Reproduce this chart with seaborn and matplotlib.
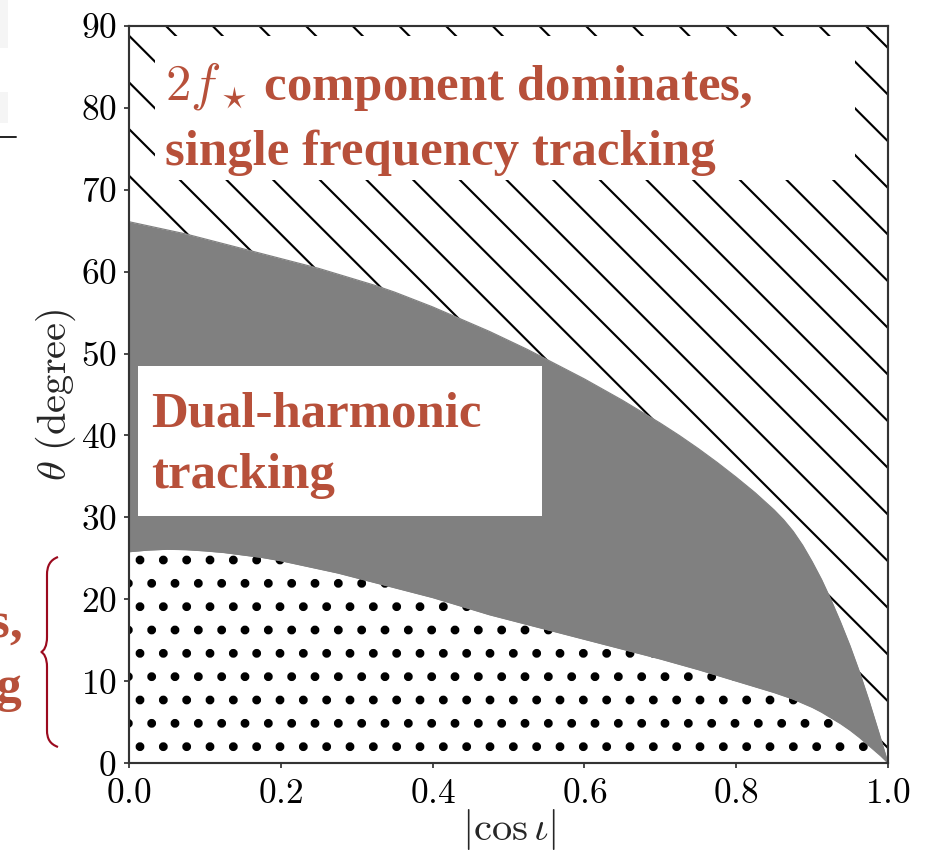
import matplotlib
matplotlib.use("Agg")
import matplotlib.pyplot as plt
import seaborn as sns
import pandas as pd
from matplotlib.patches import Rectangle, PathPatch
from matplotlib.path import Path

# |cos iota| samples and the two regime boundaries (degrees)
cos_iota = [0.0, 0.025, 0.05, 0.075, 0.1, 0.125, 0.15, 0.175, 0.2, 0.225, 0.25, 0.275,
            0.3, 0.325, 0.35, 0.375, 0.4, 0.425, 0.45, 0.475, 0.5, 0.525, 0.55, 0.575,
            0.6, 0.625, 0.65, 0.675, 0.7, 0.725, 0.75, 0.775, 0.8, 0.825, 0.85, 0.8625,
            0.875, 0.8875, 0.9, 0.9125, 0.925, 0.9375, 0.95, 0.9625, 0.975, 0.99, 1.0]
theta_upper = [66.1, 65.6, 65.1, 64.6, 64.0, 63.4, 62.8, 62.2, 61.6, 61.0, 60.4, 59.7,
               59.0, 58.3, 57.5, 56.6, 55.7, 54.7, 53.7, 52.7, 51.6, 50.5, 49.3, 48.1,
               46.9, 45.6, 44.3, 42.9, 41.5, 40.0, 38.4, 36.7, 34.9, 33.0, 30.9, 29.7,
               28.3, 26.6, 24.6, 22.4, 19.9, 17.2, 14.3, 11.1, 7.6, 3.1, 0.0]
theta_lower = [25.8, 26.0, 26.1, 26.05, 25.9, 25.7, 25.4, 25.1, 24.7, 24.2, 23.7, 23.2,
               22.6, 22.0, 21.4, 20.8, 20.2, 19.5, 18.8, 18.1, 17.5, 16.9, 16.3, 15.7,
               15.1, 14.5, 13.9, 13.3, 12.7, 12.05, 11.4, 10.7, 10.0, 9.3, 8.6, 8.2,
               7.8, 7.3, 6.8, 6.2, 5.5, 4.8, 4.0, 3.1, 2.1, 0.9, 0.0]

x_ticks = [0.0, 0.2, 0.4, 0.6, 0.8, 1.0]
x_tick_labels = [r"$0.0$", r"$0.2$", r"$0.4$", r"$0.6$", r"$0.8$", r"$1.0$"]
y_ticks = [0, 10, 20, 30, 40, 50, 60, 70, 80, 90]
y_tick_labels = [r"$%d$" % v for v in y_ticks]

label_top = [r"$2f_\star\,$component dominates,", "single frequency tracking"]
label_mid = ["Dual-harmonic", "tracking"]
label_side = [r"$f_\star\,$component dominates,", "single frequency tracking"]

df = pd.DataFrame({"cos_iota": cos_iota, "upper": theta_upper, "lower": theta_lower})

sns.set_theme(style="ticks")
plt.rcParams["font.family"] = ["Liberation Serif", "DejaVu Serif"]
plt.rcParams["mathtext.fontset"] = "cm"
plt.rcParams["axes.linewidth"] = 0.55
plt.rcParams["axes.edgecolor"] = "#333333"

DPI = 280
W, H = 927, 851
fig = plt.figure(figsize=(W / DPI, H / DPI), dpi=DPI)
ax = fig.add_axes([129 / W, 1 - 763 / H, 759 / W, 737 / H])

red = "#b7503a"
grey = "#808080"


def hatched(y1, y2, pattern, hlw):
    with plt.rc_context({"hatch.linewidth": hlw}):
        coll = ax.fill_between(df["cos_iota"], y1, y2, facecolor="white",
                               edgecolor="black", hatch=pattern, linewidth=0, zorder=1)
        if hasattr(coll, "set_hatch_linewidth"):
            coll.set_hatch_linewidth(hlw)
    return coll


# single-frequency (2f) regime: hatched, above the upper boundary
hatched(df["upper"], 90, "\\\\", 0.55)
# low-theta regime: dotted, below the lower boundary
hatched(0, df["lower"], "..", 1.05)
# dual-harmonic regime: solid grey
ax.fill_between(df["cos_iota"], df["lower"], df["upper"], color=grey,
                linewidth=0, zorder=2)
sns.lineplot(data=df, x="cos_iota", y="upper", color=grey, lw=0.3, ax=ax, zorder=2)
sns.lineplot(data=df, x="cos_iota", y="lower", color=grey, lw=0.3, ax=ax, zorder=2)

# white label panels
ax.add_patch(Rectangle((0.034, 71.2), 0.923, 17.6, facecolor="white",
                       edgecolor="none", zorder=3))
ax.add_patch(Rectangle((0.012, 30.2), 0.532, 18.3, facecolor="white",
                       edgecolor="none", zorder=3))

fs = 13.1
tkw = dict(color=red, fontsize=fs, fontweight="bold", va="baseline", ha="left", zorder=4)
ax.text(0.047, 80.95, label_top[0], **tkw)
ax.text(0.047, 73.0, label_top[1], **tkw)
ax.text(0.0286, 41.1, label_mid[0], **tkw)
ax.text(0.0286, 33.6, label_mid[1], **tkw)

ax.set_xlim(0, 1)
ax.set_ylim(0, 90)
ax.set_xticks(x_ticks)
ax.set_xticklabels(x_tick_labels)
ax.set_yticks(y_ticks)
ax.set_yticklabels(y_tick_labels)
ax.tick_params(direction="out", length=1.4, width=0.45, pad=1.8,
               labelsize=9.1, colors="#333333", labelcolor="black")
ax.tick_params(axis="x", pad=2.4)
ax.set_xlabel(r"$|\cos\iota|$", fontsize=10.4, labelpad=-1.0)
ax.set_ylabel(r"$\theta\ \mathrm{(degree)}$", fontsize=10.4, labelpad=0.6)
for s in ax.spines.values():
    s.set_visible(True)
    s.set_zorder(5)
ax.grid(False)

# side annotation for the low-theta regime, with its brace
skw = dict(color=red, fontsize=fs, fontweight="bold", va="baseline", ha="right")
fig.text(22 / W, 1 - 637 / H, label_side[0], **skw)
fig.text(22 / W, 1 - 701 / H, label_side[1], **skw)


def px(x, y):
    return (x / W, 1 - y / H)


verts = [px(58, 557), px(50, 560), px(47, 566), px(47, 575),
         px(47, 637),
         px(47, 646), px(44, 651), px(41, 652),
         px(44, 653), px(47, 658), px(47, 667),
         px(47, 730),
         px(47, 739), px(50, 744), px(58, 747)]
codes = [Path.MOVETO, Path.CURVE4, Path.CURVE4, Path.CURVE4,
         Path.LINETO,
         Path.CURVE4, Path.CURVE4, Path.CURVE4,
         Path.CURVE4, Path.CURVE4, Path.CURVE4,
         Path.LINETO,
         Path.CURVE4, Path.CURVE4, Path.CURVE4]
fig.add_artist(PathPatch(Path(verts, codes), facecolor="none", edgecolor="#9b0a1e",
                         lw=0.55, transform=fig.transFigure))

# slide fragments at the top-left corner
fig.add_artist(Rectangle(px(0, 48), 8 / W, 48 / H, facecolor="#f5f5f5",
                         edgecolor="none", transform=fig.transFigure))
fig.add_artist(Rectangle(px(0, 123), 8 / W, 31 / H, facecolor="#f5f5f5",
                         edgecolor="none", transform=fig.transFigure))
fig.add_artist(plt.Line2D([0, 16 / W], [1 - 137 / H, 1 - 137 / H], color="#222222",
                          lw=0.5, transform=fig.transFigure))

fig.savefig("out.png", dpi=DPI, facecolor="white")
